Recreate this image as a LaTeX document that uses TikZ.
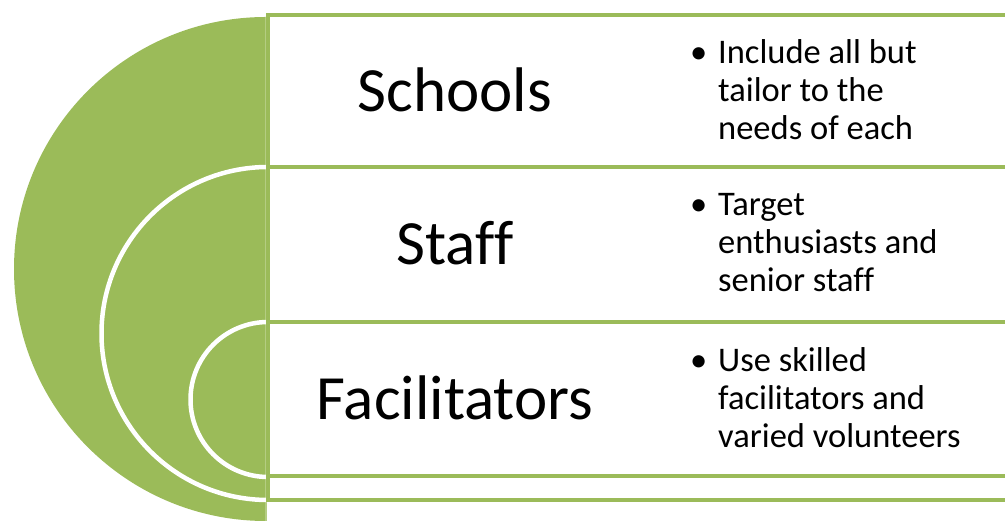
\documentclass[tikz,border=0pt]{standalone}
\usepackage{fontspec}
\setmainfont{Carlito}[Ligatures=CommonOff]
\definecolor{leafgreen}{HTML}{9BBB59}
\definecolor{paleleaf}{HTML}{B4CD82}
\begin{document}
\begin{tikzpicture}[x=1pt,y=1pt,
	rowbox/.style={draw=leafgreen,line width=4pt,fill=white},
	ringline/.style={draw=white,line width=4.5pt},
	heading/.style={font=\fontsize{63}{70}\selectfont,inner sep=0pt},
	note/.style={font=\fontsize{34.5}{38}\selectfont,align=left,anchor=west,inner sep=0pt}]
	\useasboundingbox (0,0) rectangle (1005,521);
	\clip (0,0) rectangle (1005,521);
	% half disc and its rings
	\coordinate (disctop) at (266,504);
	\coordinate (midtop) at (268,354);
	\coordinate (innertop) at (268,199);
	\fill[leafgreen] (disctop) arc[start angle=90,end angle=270,radius=252] -- cycle;
	\draw[paleleaf,line width=1.5pt] (disctop)--(266,0);
	\draw[ringline] (midtop) arc[start angle=90,end angle=270,radius=166.5];
	\draw[ringline] (innertop) arc[start angle=90,end angle=270,radius=77.5];
	% rows
	\draw[rowbox] (267.5,506) rectangle (1015,354);
	\draw[rowbox] (267.5,354) rectangle (1015,199);
	\draw[rowbox] (267.5,199) rectangle (1015,45);
	\draw[rowbox] (267.5,45) rectangle (1015,21);
	\node[heading] (schools) at (455,431) {Schools};
	\node[heading] (staff) at (455,278) {Staff};
	\node[heading] (facil) at (455,123) {Facilitators};
	\node[note] (schoolsnote) at (718,431)
		{\llap{\textbullet\hspace{11pt}}Include all but\\tailor to the\\needs of each};
	\node[note] (staffnote) at (718,278)
		{\llap{\textbullet\hspace{11pt}}Target\\enthusiasts and\\senior staff};
	\node[note] (facilnote) at (718,123)
		{\llap{\textbullet\hspace{11pt}}Use skilled\\facilitators and\\varied volunteers};
\end{tikzpicture}
\end{document}
